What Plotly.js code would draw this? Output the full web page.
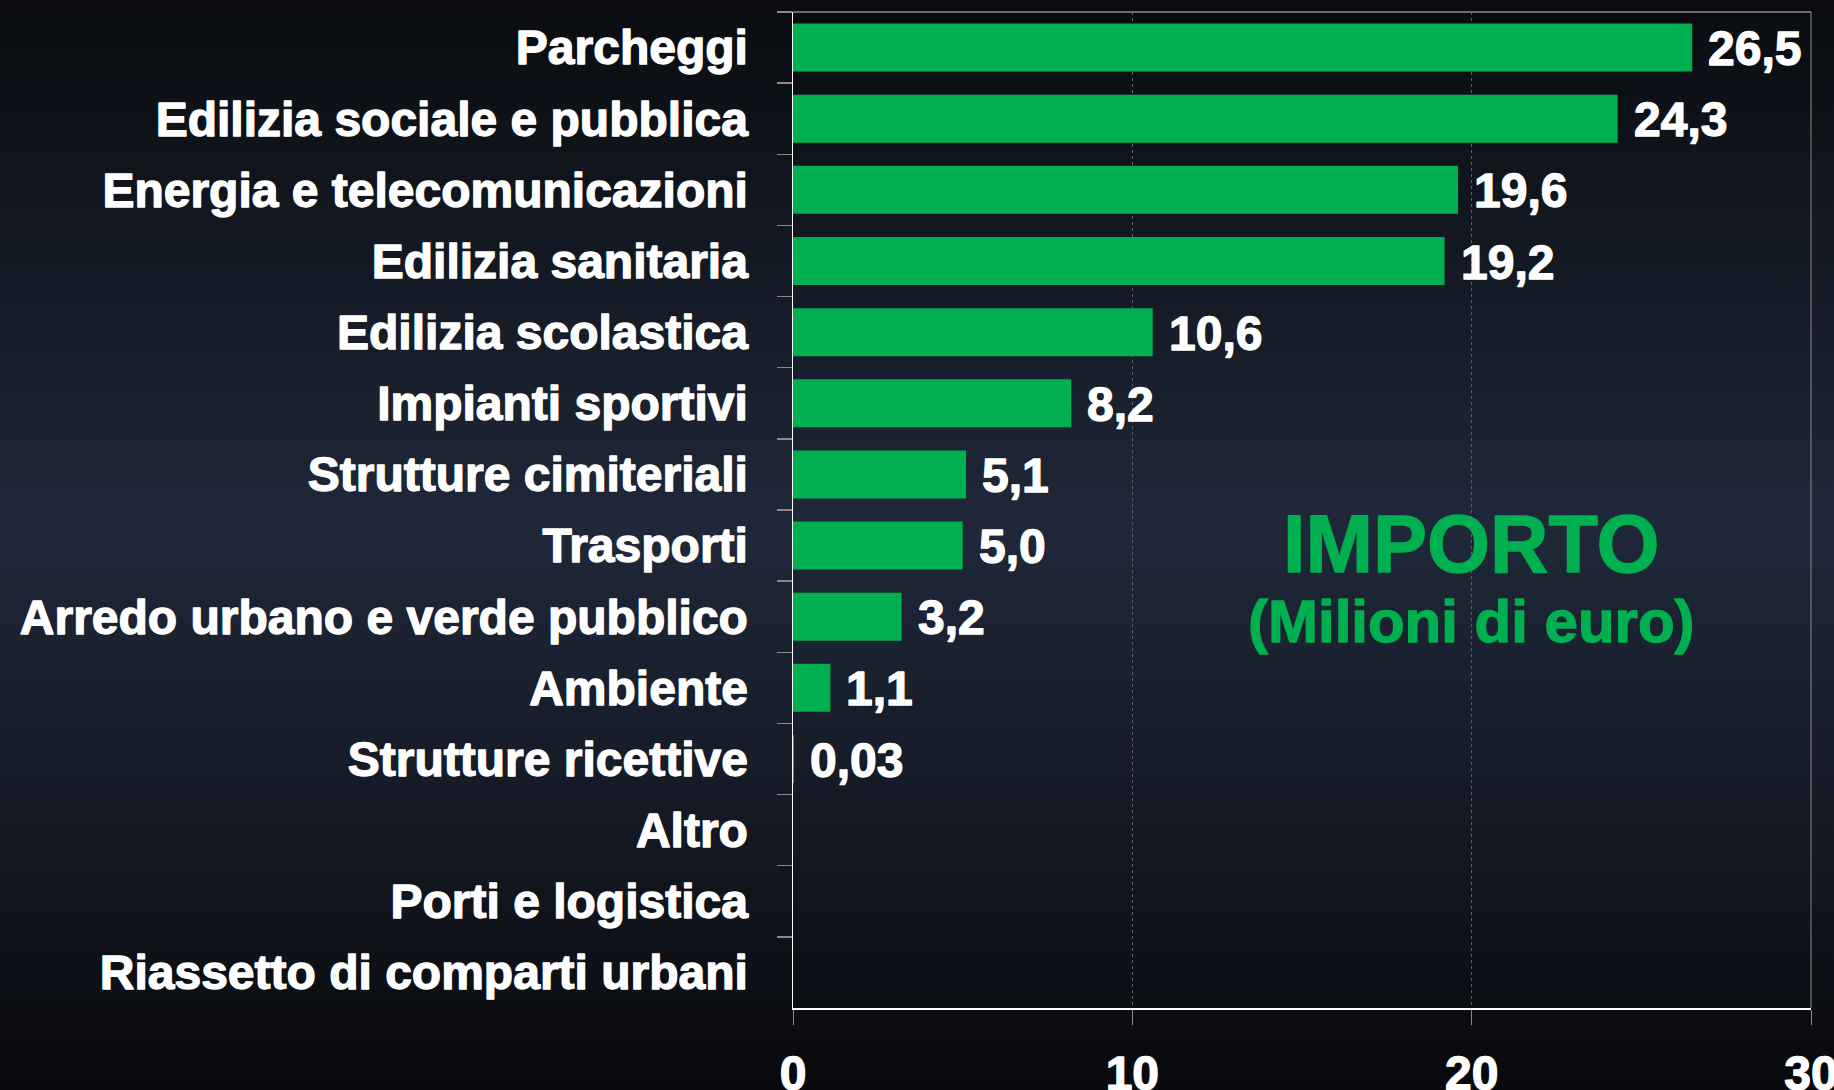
<!DOCTYPE html>
<html>
<head>
<meta charset="utf-8">
<script src="https://cdn.plot.ly/plotly-3.0.1.min.js"></script>
<style>
  html, body { margin: 0; padding: 0; width: 1834px; height: 1090px; overflow: hidden;
    background: linear-gradient(to bottom, #0a0c10 0%, #131923 24%, #1f2839 48%, #161c28 70%, #08090d 100%); }
  #chart { width: 1834px; height: 1090px; }
</style>
</head>
<body>
<div id="chart"></div>
<script>
const categories = [
  "Parcheggi",
  "Edilizia sociale e pubblica",
  "Energia e telecomunicazioni",
  "Edilizia sanitaria",
  "Edilizia scolastica",
  "Impianti sportivi",
  "Strutture cimiteriali",
  "Trasporti",
  "Arredo urbano e verde pubblico",
  "Ambiente",
  "Strutture ricettive",
  "Altro",
  "Porti e logistica",
  "Riassetto di comparti urbani"
];
const values = [26.5, 24.3, 19.6, 19.2, 10.6, 8.2, 5.1, 5.0, 3.2, 1.1, 0.03, 0, 0, 0];
const valueLabels = ["26,5", "24,3", "19,6", "19,2", "10,6", "8,2", "5,1", "5,0", "3,2", "1,1", "0,03", "", "", ""];
const xTicks = [0, 10, 20, 30];
const titleMain = "IMPORTO";
const titleSub = "(Milioni di euro)";

const FONT = 'Liberation Sans';
const GREEN = '#00b050';

const trace = {
  type: 'bar',
  orientation: 'h',
  x: values,
  y: categories,
  marker: { color: GREEN, line: { width: 0 } },
  hoverinfo: 'skip'
};

const annotations = [];
values.forEach((v, i) => {
  if (valueLabels[i]) {
    annotations.push({
      x: v, y: categories[i], xref: 'x', yref: 'y',
      text: valueLabels[i], showarrow: false,
      xanchor: 'left', yanchor: 'middle', xshift: 14, yshift: -1,
      font: { family: FONT, size: 48, color: '#ffffff', weight: 700 }
    });
  }
});
annotations.push({
  x: 20, y: 0.466, xref: 'x', yref: 'paper', text: titleMain, showarrow: false,
  xanchor: 'center', yanchor: 'middle',
  font: { family: FONT, size: 81, color: GREEN, weight: 700 }
});
annotations.push({
  x: 20, y: 0.388, xref: 'x', yref: 'paper', text: titleSub, showarrow: false,
  xanchor: 'center', yanchor: 'middle',
  font: { family: FONT, size: 60, color: GREEN, weight: 700 }
});

const layout = {
  width: 1834, height: 1090,
  margin: { l: 793, r: 23, t: 12, b: 82, pad: 0 },
  paper_bgcolor: 'rgba(0,0,0,0)',
  plot_bgcolor: 'rgba(0,0,0,0)',
  showlegend: false,
  bargap: 0.325,
  font: { family: FONT },
  xaxis: {
    range: [0, 30], tickvals: xTicks, ticktext: xTicks.map(String),
    showline: true, linecolor: '#ffffff', linewidth: 1.5,
    ticks: 'outside', ticklen: 15, tickcolor: '#8a8a8a', tickwidth: 1,
    showgrid: true, gridcolor: '#5a5f68', griddash: 'dot', gridwidth: 1,
    zeroline: false, fixedrange: true, automargin: false,
    ticklabelstandoff: 8, ticklabeloverflow: 'allow',
    tickfont: { family: FONT, size: 48, color: '#ffffff', weight: 700 }
  },
  yaxis: {
    type: 'category', categoryorder: 'array', categoryarray: categories,
    autorange: 'reversed',
    showline: true, linecolor: '#ffffff', linewidth: 1.5,
    ticks: 'outside', tickson: 'boundaries', ticklen: 15, tickcolor: '#8a8a8a', tickwidth: 1.5,
    showgrid: false, zeroline: false, fixedrange: true, automargin: false,
    ticklabelstandoff: 34,
    tickfont: { family: FONT, size: 48, color: '#ffffff', weight: 700 }
  },
  shapes: [
    { type: 'line', xref: 'paper', yref: 'paper', x0: 0, x1: 1, y0: 1, y1: 1,
      line: { color: '#8a8a8a', width: 1.5 } },
    { type: 'line', xref: 'paper', yref: 'paper', x0: 1, x1: 1, y0: 0, y1: 1,
      line: { color: '#8a8a8a', width: 1 } }
  ],
  annotations: annotations
};

Plotly.newPlot('chart', [trace], layout, { displayModeBar: false, staticPlot: true }).then(gd => {
  // heavier glyph weight, as in the reference
  gd.querySelectorAll('svg text').forEach(t => {
    const f = t.style.fill;
    if (f) { t.style.stroke = f; t.style.strokeWidth = '1.3px'; t.style.strokeLinejoin = 'round'; }
  });
});
</script>
</body>
</html>
